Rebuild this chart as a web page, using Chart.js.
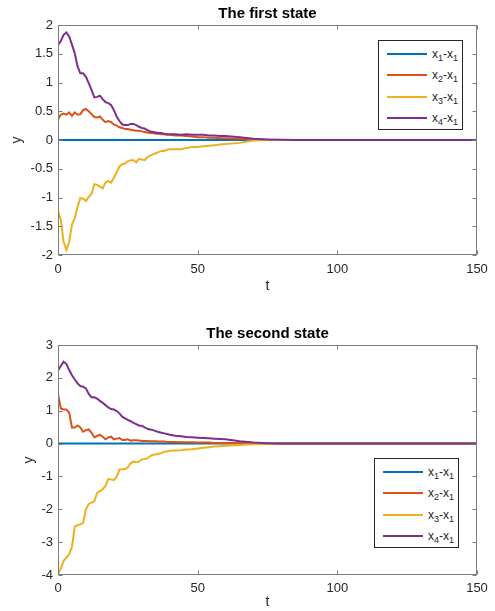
<!DOCTYPE html>
<html>
<head>
<meta charset="utf-8">
<script src="https://cdn.jsdelivr.net/npm/chart.js@4.4.1/dist/chart.umd.min.js"></script>
<style>
  html, body { margin: 0; padding: 0; background: #fff; }
  body { width: 495px; height: 611px; position: relative; overflow: hidden; font-family: "Liberation Sans", Arial, sans-serif; }
  .panel { position: absolute; left: 0; width: 495px; }
  .legend { position: absolute; width: 85px; height: 90px; background: #fff; border: 1px solid #262626; box-sizing: border-box; padding-top: 2px; }
  .legend .row { display: flex; align-items: center; height: 21.5px; }
  .legend .swatch { width: 40px; height: 2px; margin-left: 8px; margin-right: 5px; }
  .legend .txt { font-size: 12px; color: #262626; line-height: 12px; white-space: nowrap; }
  .legend sub { font-size: 9px; vertical-align: -3px; line-height: 0; }
</style>
</head>
<body>
<div class="panel" style="top:0;height:305px;"><canvas id="firstChart" width="495" height="305"></canvas></div>
<div class="panel" style="top:320px;height:291px;"><canvas id="secondChart" width="495" height="291"></canvas></div>
<div class="legend" id="firstLegend" style="left:378px;top:40px;"></div>
<div class="legend" id="secondLegend" style="left:374px;top:458px;"></div>

<script>
// time samples (shared by both plots)
const tSteps = [0,1,2,3,4,5,6,7,8,9,10,11,12,13,14,15,16,17,18,19,20,21,22,23,24,25,26,27,28,29,30,31,32,33,34,35,36,37,38,39,40,
    42,44,46,48,50,52,54,56,58,60,65,70,75,80,85,90,100,110,120,130,140,150];

const seriesNames = ['x1-x1', 'x2-x1', 'x3-x1', 'x4-x1'];
const seriesColors = ['#0072BD', '#D95319', '#EDB120', '#7E2F8E'];

const xTicks = [0, 50, 100, 150];
const firstYTicks = [-2, -1.5, -1, -0.5, 0, 0.5, 1, 1.5, 2];
const secondYTicks = [-4, -3, -2, -1, 0, 1, 2, 3];

// The first state
const firstX1 = [0,0,0,0,0,0,0,0,0,0,0,0,0,0,0,0,0,0,0,0,0,0,0,0,0,0,0,0,0,0,0,0,0,0,0,0,0,0,0,0,0,
    0,0,0,0,0,0,0,0,0,0,0,0,0,0,0,0,0,0,0,0,0,0];
const firstX2 = [0.36,0.44,0.46,0.44,0.48,0.42,0.48,0.44,0.45,0.52,0.54,0.50,0.45,0.40,0.39,0.41,0.35,0.31,0.33,0.31,
    0.27,0.25,0.22,0.21,0.19,0.19,0.18,0.17,0.16,0.16,0.15,0.14,0.13,0.12,0.12,0.11,0.11,0.10,0.10,0.09,0.09,
    0.08,0.08,0.07,0.06,0.05,0.05,0.04,0.04,0.03,0.03,0.02,0.01,0,0,0,0,0,0,0,0,0,0];
const firstX3 = [-1.23,-1.39,-1.77,-1.91,-1.77,-1.47,-1.36,-1.16,-1.01,-1.02,-1.06,-0.99,-0.94,-0.77,-0.78,-0.81,-0.84,-0.74,-0.71,-0.74,
    -0.66,-0.56,-0.46,-0.42,-0.41,-0.37,-0.35,-0.35,-0.39,-0.33,-0.34,-0.35,-0.30,-0.27,-0.25,-0.23,-0.21,-0.19,-0.19,-0.17,-0.16,
    -0.16,-0.16,-0.14,-0.12,-0.12,-0.11,-0.10,-0.09,-0.08,-0.07,-0.05,-0.01,0,0,0,0,0,0,0,0,0,0];
const firstX4 = [1.65,1.72,1.83,1.87,1.80,1.66,1.51,1.28,1.16,1.16,1.10,0.99,0.87,0.74,0.75,0.77,0.71,0.66,0.64,0.61,
    0.52,0.41,0.33,0.27,0.26,0.26,0.28,0.28,0.26,0.23,0.21,0.20,0.17,0.15,0.14,0.13,0.12,0.12,0.11,0.10,0.10,
    0.10,0.09,0.10,0.09,0.09,0.09,0.08,0.08,0.07,0.07,0.05,0.02,0.01,0.005,0,0,0,0,0,0,0,0];

// The second state
const secondX1 = [0,0,0,0,0,0,0,0,0,0,0,0,0,0,0,0,0,0,0,0,0,0,0,0,0,0,0,0,0,0,0,0,0,0,0,0,0,0,0,0,0,
    0,0,0,0,0,0,0,0,0,0,0,0,0,0,0,0,0,0,0,0,0,0];
const secondX2 = [1.51,1.07,1.04,1.04,0.94,0.49,0.49,0.55,0.49,0.36,0.41,0.43,0.33,0.19,0.23,0.27,0.21,0.13,0.19,0.21,
    0.13,0.15,0.17,0.11,0.11,0.13,0.09,0.10,0.10,0.09,0.08,0.08,0.08,0.07,0.07,0.07,0.06,0.06,0.06,0.05,0.05,
    0.05,0.04,0.04,0.04,0.03,0.03,0.03,0.02,0.02,0.02,0.01,0.01,0,0,0,0,0,0,0,0,0,0];
const secondX3 = [-3.97,-3.80,-3.57,-3.47,-3.37,-3.14,-2.53,-2.48,-2.46,-2.41,-2.00,-1.84,-1.80,-1.76,-1.50,-1.45,-1.39,-1.29,-1.08,-1.09,
    -1.11,-1.01,-0.79,-0.78,-0.78,-0.72,-0.60,-0.55,-0.56,-0.55,-0.48,-0.47,-0.45,-0.38,-0.34,-0.33,-0.31,-0.29,-0.25,-0.24,-0.22,
    -0.21,-0.20,-0.18,-0.17,-0.15,-0.13,-0.11,-0.09,-0.08,-0.07,-0.04,-0.02,-0.01,0,0,0,0,0,0,0,0,0];
const secondX4 = [2.22,2.36,2.49,2.42,2.24,2.08,1.95,1.83,1.75,1.73,1.68,1.51,1.41,1.41,1.37,1.30,1.24,1.17,1.10,1.05,
    1.04,0.99,0.92,0.82,0.77,0.72,0.68,0.63,0.59,0.55,0.54,0.49,0.45,0.43,0.41,0.38,0.35,0.33,0.31,0.29,0.27,
    0.24,0.22,0.20,0.19,0.18,0.17,0.16,0.15,0.14,0.13,0.07,0.03,0.01,0.005,0,0,0,0,0,0,0,0];

const textColor = '#262626';
const fontFamily = '"Liberation Sans", Arial, Helvetica, sans-serif';

// box round the axes with inward ticks, like MATLAB
const axesBox = {
    id: 'axesBox',
    afterDatasetsDraw(chart) {
        const { ctx, chartArea: a, scales } = chart;
        const L = Math.round(a.left) + 0.5, R = Math.round(a.right) - 0.5;
        const T = Math.round(a.top) + 0.5, B = Math.round(a.bottom) - 0.5;
        ctx.save();
        ctx.strokeStyle = '#7d7d7d';
        ctx.lineWidth = 1;
        ctx.strokeRect(L, T, R - L, B - T);
        ctx.beginPath();
        scales.x.ticks.forEach(tk => {
            const px = Math.round(scales.x.getPixelForValue(tk.value)) + 0.5;
            ctx.moveTo(px, B); ctx.lineTo(px, B - 4);
            ctx.moveTo(px, T); ctx.lineTo(px, T + 4);
        });
        scales.y.ticks.forEach(tk => {
            const py = Math.round(scales.y.getPixelForValue(tk.value)) + 0.5;
            ctx.moveTo(L, py); ctx.lineTo(L + 4, py);
            ctx.moveTo(R, py); ctx.lineTo(R - 4, py);
        });
        ctx.stroke();
        ctx.restore();
    }
};

function makeChart(canvasId, title, values, yTicks, cfg) {
    const datasets = values.map((vals, i) => ({
        label: seriesNames[i],
        data: tSteps.map((t, k) => ({ x: t, y: vals[k] })),
        borderColor: seriesColors[i],
        backgroundColor: seriesColors[i],
        borderWidth: 2,
        pointRadius: 0,
        tension: 0,
        order: values.length - i
    }));

    return new Chart(document.getElementById(canvasId), {
        type: 'line',
        data: { datasets: datasets },
        options: {
            responsive: false,
            animation: false,
            layout: { padding: { left: 0, right: 18, top: 0, bottom: 0 } },
            plugins: {
                legend: { display: false },
                tooltip: { enabled: false },
                title: {
                    display: true,
                    text: title,
                    fullSize: false,
                    color: '#000',
                    font: { family: fontFamily, size: 15, weight: 'bold', lineHeight: '17px' },
                    padding: { top: 5, bottom: 3 }
                }
            },
            scales: {
                x: {
                    type: 'linear',
                    min: 0,
                    max: 150,
                    afterBuildTicks: scale => { scale.ticks = xTicks.map(v => ({ value: v })); },
                    afterFit: scale => { scale.height = cfg.xAxisHeight; },
                    grid: { display: false, drawTicks: false },
                    border: { display: false },
                    ticks: {
                        color: textColor,
                        padding: cfg.xTickPad,
                        maxRotation: 0,
                        font: { family: fontFamily, size: 13 },
                        callback: v => String(v)
                    },
                    title: {
                        display: true,
                        text: 't',
                        color: textColor,
                        font: { family: fontFamily, size: 14 },
                        padding: { top: 0, bottom: cfg.xTitlePad }
                    }
                },
                y: {
                    type: 'linear',
                    min: yTicks[0],
                    max: yTicks[yTicks.length - 1],
                    afterBuildTicks: scale => { scale.ticks = yTicks.map(v => ({ value: v })); },
                    afterFit: scale => { scale.width = 58; },
                    grid: { display: false, drawTicks: false },
                    border: { display: false },
                    ticks: {
                        color: textColor,
                        padding: 5,
                        font: { family: fontFamily, size: 13 },
                        callback: v => String(v)
                    },
                    title: {
                        display: true,
                        text: 'y',
                        color: textColor,
                        font: { family: fontFamily, size: 14 },
                        padding: { top: cfg.yTitlePad, bottom: 0 }
                    }
                }
            }
        },
        plugins: [axesBox]
    });
}

function buildLegend(id) {
    const box = document.getElementById(id);
    seriesNames.forEach((name, i) => {
        const row = document.createElement('div');
        row.className = 'row';
        const sw = document.createElement('div');
        sw.className = 'swatch';
        sw.style.background = seriesColors[i];
        const txt = document.createElement('span');
        txt.className = 'txt';
        txt.innerHTML = name.replace(/x(\d)/g, 'x<sub>$1</sub>');
        row.appendChild(sw);
        row.appendChild(txt);
        box.appendChild(row);
    });
}

document.addEventListener('DOMContentLoaded', function() {
    makeChart('firstChart', 'The first state', [firstX1, firstX2, firstX3, firstX4], firstYTicks,
        { xAxisHeight: 50, xTickPad: 7, xTitlePad: 10, yTitlePad: 9 });
    makeChart('secondChart', 'The second state', [secondX1, secondX2, secondX3, secondX4], secondYTicks,
        { xAxisHeight: 36, xTickPad: 6, xTitlePad: 0, yTitlePad: 21 });
    buildLegend('firstLegend');
    buildLegend('secondLegend');
});
</script>
</body>
</html>
